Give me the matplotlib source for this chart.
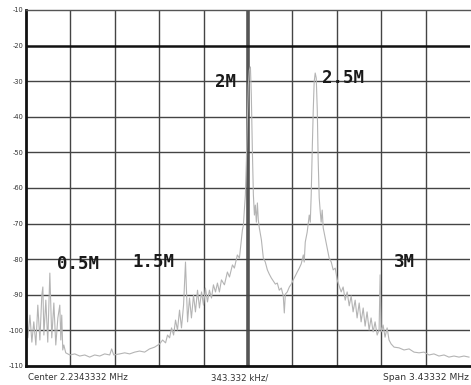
import matplotlib
matplotlib.use("Agg")
import matplotlib.pyplot as plt

# Spectrum analyser settings
center_mhz = 2.2343332
span_mhz = 3.43332
ref_levels = [-10, -20, -30, -40, -50, -60, -70, -80, -90, -100, -110]
level_labels = ["-10", "-20", "-30", "-40", "-50", "-60", "-70", "-80", "-90", "-100", "-110"]

# Measured trace: frequency (MHz) and level (dB)
freq_mhz = [
    0.517, 0.532, 0.548, 0.563, 0.578, 0.594, 0.609, 0.625, 0.640, 0.648,
    0.656, 0.671, 0.686, 0.702, 0.717, 0.733, 0.748, 0.764, 0.779, 0.787,
    0.794, 0.802, 0.810, 0.825, 0.856, 0.895, 0.933, 0.972, 1.010, 1.049,
    1.088, 1.126, 1.165, 1.180, 1.196, 1.242, 1.281, 1.319, 1.358, 1.396,
    1.435, 1.473, 1.512, 1.551, 1.574, 1.597, 1.612, 1.628, 1.643, 1.659,
    1.674, 1.689, 1.705, 1.720, 1.736, 1.751, 1.767, 1.782, 1.797, 1.813,
    1.828, 1.844, 1.859, 1.875, 1.890, 1.905, 1.921, 1.936, 1.952, 1.967,
    1.983, 1.998, 2.013, 2.029, 2.052, 2.075, 2.091, 2.114, 2.129, 2.152,
    2.168, 2.183, 2.191, 2.199, 2.206, 2.214, 2.222, 2.229, 2.237, 2.245,
    2.253, 2.260, 2.268, 2.276, 2.284, 2.291, 2.299, 2.307, 2.314, 2.322,
    2.338, 2.353, 2.368, 2.384, 2.399, 2.415, 2.430, 2.446, 2.461, 2.476,
    2.492, 2.507, 2.515, 2.523, 2.538, 2.554, 2.569, 2.584, 2.600, 2.615,
    2.631, 2.646, 2.662, 2.669, 2.677, 2.692, 2.708, 2.716, 2.723, 2.731,
    2.739, 2.746, 2.754, 2.762, 2.770, 2.777, 2.785, 2.793, 2.800, 2.808,
    2.816, 2.831, 2.847, 2.862, 2.878, 2.893, 2.909, 2.924, 2.939, 2.955,
    2.970, 2.986, 3.001, 3.017, 3.032, 3.047, 3.063, 3.078, 3.094, 3.109,
    3.125, 3.140, 3.155, 3.171, 3.186, 3.202, 3.217, 3.233, 3.248, 3.256,
    3.264, 3.279, 3.294, 3.310, 3.325, 3.341, 3.364, 3.402, 3.441, 3.480,
    3.518, 3.557, 3.595, 3.634, 3.672, 3.711, 3.750, 3.788, 3.827, 3.866,
    3.904, 3.943,
]
level_db = [
    -97.1, -102.1, -95.7, -103.3, -97.6, -104.1, -92.9, -102.7, -90.1, -87.8,
    -101.3, -91.5, -103.3, -83.9, -102.1, -92.3, -104.1, -96.5, -92.9, -102.7,
    -95.7, -105.5, -104.1, -106.3, -106.9, -106.6, -107.2, -106.9, -107.5, -106.9,
    -107.2, -106.6, -106.9, -105.2, -106.9, -106.6, -106.3, -106.6, -106.1, -105.8,
    -106.1, -105.2, -104.7, -103.8, -102.7, -103.5, -101.3, -102.1, -99.3, -101.3,
    -97.1, -99.9, -94.3, -99.3, -92.9, -80.8, -97.6, -90.9, -96.5, -90.1,
    -94.8, -88.7, -93.7, -89.2, -92.9, -88.1, -92.0, -88.7, -90.9, -87.2,
    -89.2, -86.7, -89.2, -85.8, -87.2, -83.6, -85.0, -81.6, -82.5, -78.8,
    -79.7, -74.6, -71.8, -70.4, -66.2, -62.0, -52.1, -40.9, -31.1, -26.9,
    -26.0, -33.9, -49.3, -62.0, -67.6, -64.8, -69.6, -64.2, -69.0, -71.2,
    -74.6, -79.7, -80.8, -83.0, -84.2, -85.3, -86.1, -87.0, -86.7, -88.7,
    -88.1, -90.3, -95.1, -89.8, -89.2, -87.8, -87.0, -85.8, -84.7, -83.6,
    -82.5, -81.3, -78.8, -80.8, -75.2, -72.4, -67.6, -69.6, -62.0, -49.3,
    -38.1, -30.2, -27.7, -29.1, -38.1, -52.1, -62.8, -66.7, -69.6, -66.2,
    -71.2, -74.0, -76.9, -79.7, -80.8, -83.0, -82.5, -85.8, -87.5, -89.2,
    -87.8, -91.5, -89.2, -93.1, -90.3, -94.8, -91.5, -96.5, -92.3, -97.6,
    -93.7, -98.8, -94.8, -99.9, -96.5, -100.4, -97.6, -101.3, -99.9, -84.4,
    -100.4, -98.5, -101.9, -99.3, -102.7, -103.8, -104.7, -104.9, -105.5, -105.2,
    -106.1, -106.3, -106.1, -106.9, -106.6, -107.2, -106.9, -107.5, -107.2, -107.5,
    -107.2, -107.5,
]

# Marker annotations: text, frequency (MHz), level (dB)
marker_text = ["0.5M", "1.5M", "2M", "2.5M", "3M"]
marker_freq = [0.918, 1.504, 2.060, 2.966, 3.441]
marker_level = [-81.3, -80.8, -30.2, -29.1, -80.8]

f_start = center_mhz - span_mhz / 2
f_stop = center_mhz + span_mhz / 2
div = span_mhz / 10

fig = plt.figure(figsize=(4.71, 3.85), dpi=100)
ax = fig.add_axes([26 / 471, 1 - 366 / 385, 444 / 471, 356 / 385])
ax.set_xlim(f_start, f_stop)
ax.set_ylim(-110, -10)

grid_color = "#444444"
for k in range(1, 10):
    x = f_start + k * div
    lw = 2.6 if k == 5 else 1.0
    col = "#555555" if k == 5 else grid_color
    ax.axvline(x, color=col, lw=lw, zorder=1)
for lvl in ref_levels[1:-1]:
    lw = 1.8 if lvl == -20 else 1.0
    col = "#111111" if lvl == -20 else grid_color
    ax.axhline(lvl, color=col, lw=lw, zorder=1)

ax.plot(freq_mhz, level_db, color="#b4b4b4", lw=0.8, zorder=2)

for txt, fx, ly in zip(marker_text, marker_freq, marker_level):
    ax.text(fx, ly, txt, ha="center", va="center", fontsize=12.5,
            family="DejaVu Sans Mono", fontweight="bold", color="#1a1a1a", zorder=3)

ax.set_xticks([])
ax.set_yticks(ref_levels)
ax.set_yticklabels(level_labels, fontsize=4.8, color="#333333")
ax.tick_params(axis="y", length=0, pad=1.5)

for side in ["left", "bottom"]:
    ax.spines[side].set_linewidth(2.0)
    ax.spines[side].set_color("#111111")
ax.spines["top"].set_linewidth(1.0)
ax.spines["top"].set_color("#555555")
ax.spines["right"].set_visible(False)

footer_y = 1 - 378 / 385
fig.text(28 / 471, footer_y, "Center 2.2343332 MHz", fontsize=6.2, color="#333333", va="center", ha="left")
fig.text(240 / 471, footer_y, "343.332 kHz/", fontsize=6.2, color="#333333", va="center", ha="center")
fig.text(469 / 471, footer_y, "Span 3.43332 MHz", fontsize=6.6, color="#333333", va="center", ha="right")

fig.savefig("out.png", dpi=100, facecolor="white")
